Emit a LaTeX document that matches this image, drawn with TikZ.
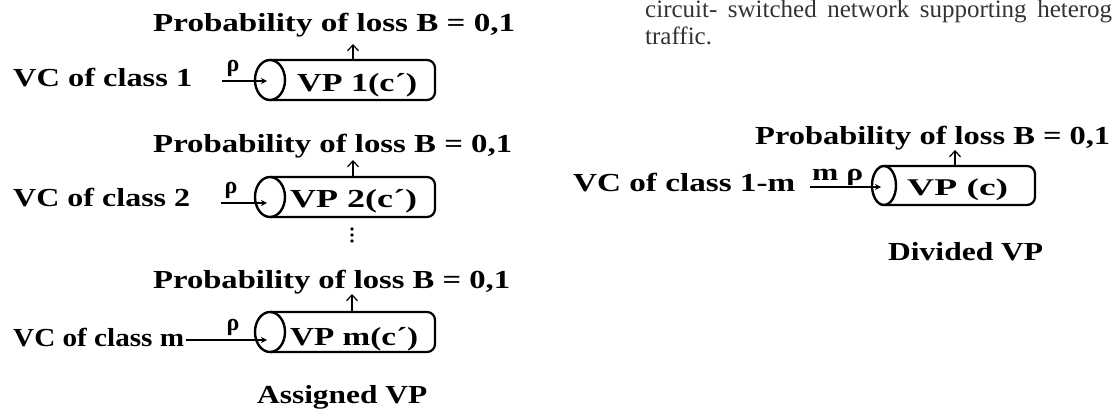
\documentclass[tikz,border=0pt]{standalone}
\usepackage{fontspec}
\setmainfont{Liberation Serif}
\usetikzlibrary{arrows.meta,shapes.geometric}
\newcommand\fitw[2]{\resizebox{#1}{\height}{#2}}
\begin{document}
\begin{tikzpicture}[x=1pt,y=-1pt,
  txt/.style={inner sep=0, anchor=base west, font=\fontsize{26pt}{30pt}\selectfont\bfseries},
  small/.style={inner sep=0, anchor=base west, font=\fontsize{24pt}{28pt}\selectfont\bfseries},
  body/.style={inner sep=0, anchor=base west, font=\fontsize{25pt}{28pt}\selectfont, text=black!80},
  vpend/.style={draw, ellipse, fill=white, line width=2.4pt, inner sep=0, outer sep=0, minimum width=30pt, minimum height=40pt},
  tube/.style={draw, line width=2.2pt, rounded corners=8pt},
  feed/.style={line width=1.2pt, -{Stealth[length=6pt,width=6pt]}, shorten >=3pt},
  loss/.style={line width=1.2pt, -{Straight Barb[length=6pt,width=11pt]}},
]
\useasboundingbox (0,0) rectangle (1114,409);

% ---------- Block 1 ----------
\node[txt] (p1) at (153,32) {\fitw{362pt}{Probability of loss B = 0,1}};
\node[txt] (vc1) at (13,87) {\fitw{179pt}{VC of class 1}};
\node[vpend] (e1) at (270,80) {};
\coordinate (r1) at (435,80);
\draw[tube] (e1.north) -| (r1) |- (e1.south);
\node[txt] (vp1) at (297,92) {\fitw{120pt}{VP 1(c´)}};
\coordinate (f1) at (222,81);
\draw[feed] (f1) -- (f1 -| e1.center);
\node[small, anchor=south] (rho1) at (233,77) {ρ};
\coordinate (t1) at (353,60);
\coordinate (a1) at (353,44);
\draw[loss] (t1) -- (a1);

% ---------- Block 2 ----------
\node[txt] (p2) at (153,153) {\fitw{359pt}{Probability of loss B = 0,1}};
\node[txt] (vc2) at (13,206) {\fitw{177pt}{VC of class 2}};
\node[vpend] (e2) at (270,197) {};
\coordinate (r2) at (435,197);
\draw[tube] (e2.north) -| (r2) |- (e2.south);
\node[txt] (vp2) at (290,207) {\fitw{127pt}{VP 2(c´)}};
\coordinate (f2) at (221,203);
\draw[feed] (f2) -- (f2 -| e2.center);
\node[small, anchor=south] (rho2) at (231,199) {ρ};
\coordinate (t2) at (353,177);
\coordinate (a2) at (353,160);
\draw[loss] (t2) -- (a2);
\foreach \yy in {229,235,241} \fill (352,\yy) circle (1.8pt);

% ---------- Block 3 ----------
\node[txt] (p3) at (153,288) {\fitw{357pt}{Probability of loss B = 0,1}};
\node[txt] (vc3) at (13,346) {\fitw{171pt}{VC of class m}};
\node[vpend] (e3) at (270,332) {};
\coordinate (r3) at (435,332);
\draw[tube] (e3.north) -| (r3) |- (e3.south);
\node[txt] (vp3) at (290,345) {\fitw{128pt}{VP m(c´)}};
\coordinate (f3) at (186,340);
\draw[feed] (f3) -- (f3 -| e3.center);
\node[small, anchor=south] (rho3) at (233,336) {ρ};
\coordinate (t3) at (352,312);
\coordinate (a3) at (352,294);
\draw[loss] (t3) -- (a3);
\node[txt] (asg) at (257,403) {\fitw{170pt}{Assigned VP}};

% ---------- Divided VP ----------
\node[body] (l1) at (645,17.5) {\makebox[467pt][s]{circuit- switched network supporting heterog}};
\node[body] (l2) at (645,45) {traffic.};
\node[txt] (pR) at (755,145) {\fitw{355pt}{Probability of loss B = 0,1}};
\node[txt] (vcR) at (573,192) {\fitw{222pt}{VC of class 1-m}};
\node[vpend, minimum width=24pt, minimum height=39pt] (eR) at (884,185.5) {};
\coordinate (rR) at (1035,185.5);
\draw[tube] (eR.north) -| (rR) |- (eR.south);
\node[small] (vpR) at (907,195) {\fitw{101pt}{VP (c)}};
\coordinate (fR) at (810,187);
\draw[feed] (fR) -- (fR -| eR.center);
\node[small] (mrho) at (812,180) {\fitw{51pt}{m ρ}};
\coordinate (tR) at (955,166);
\coordinate (aR) at (955,150);
\draw[loss] (tR) -- (aR);
\node[txt] (div) at (888,260) {\fitw{155pt}{Divided VP}};
\end{tikzpicture}
\end{document}
